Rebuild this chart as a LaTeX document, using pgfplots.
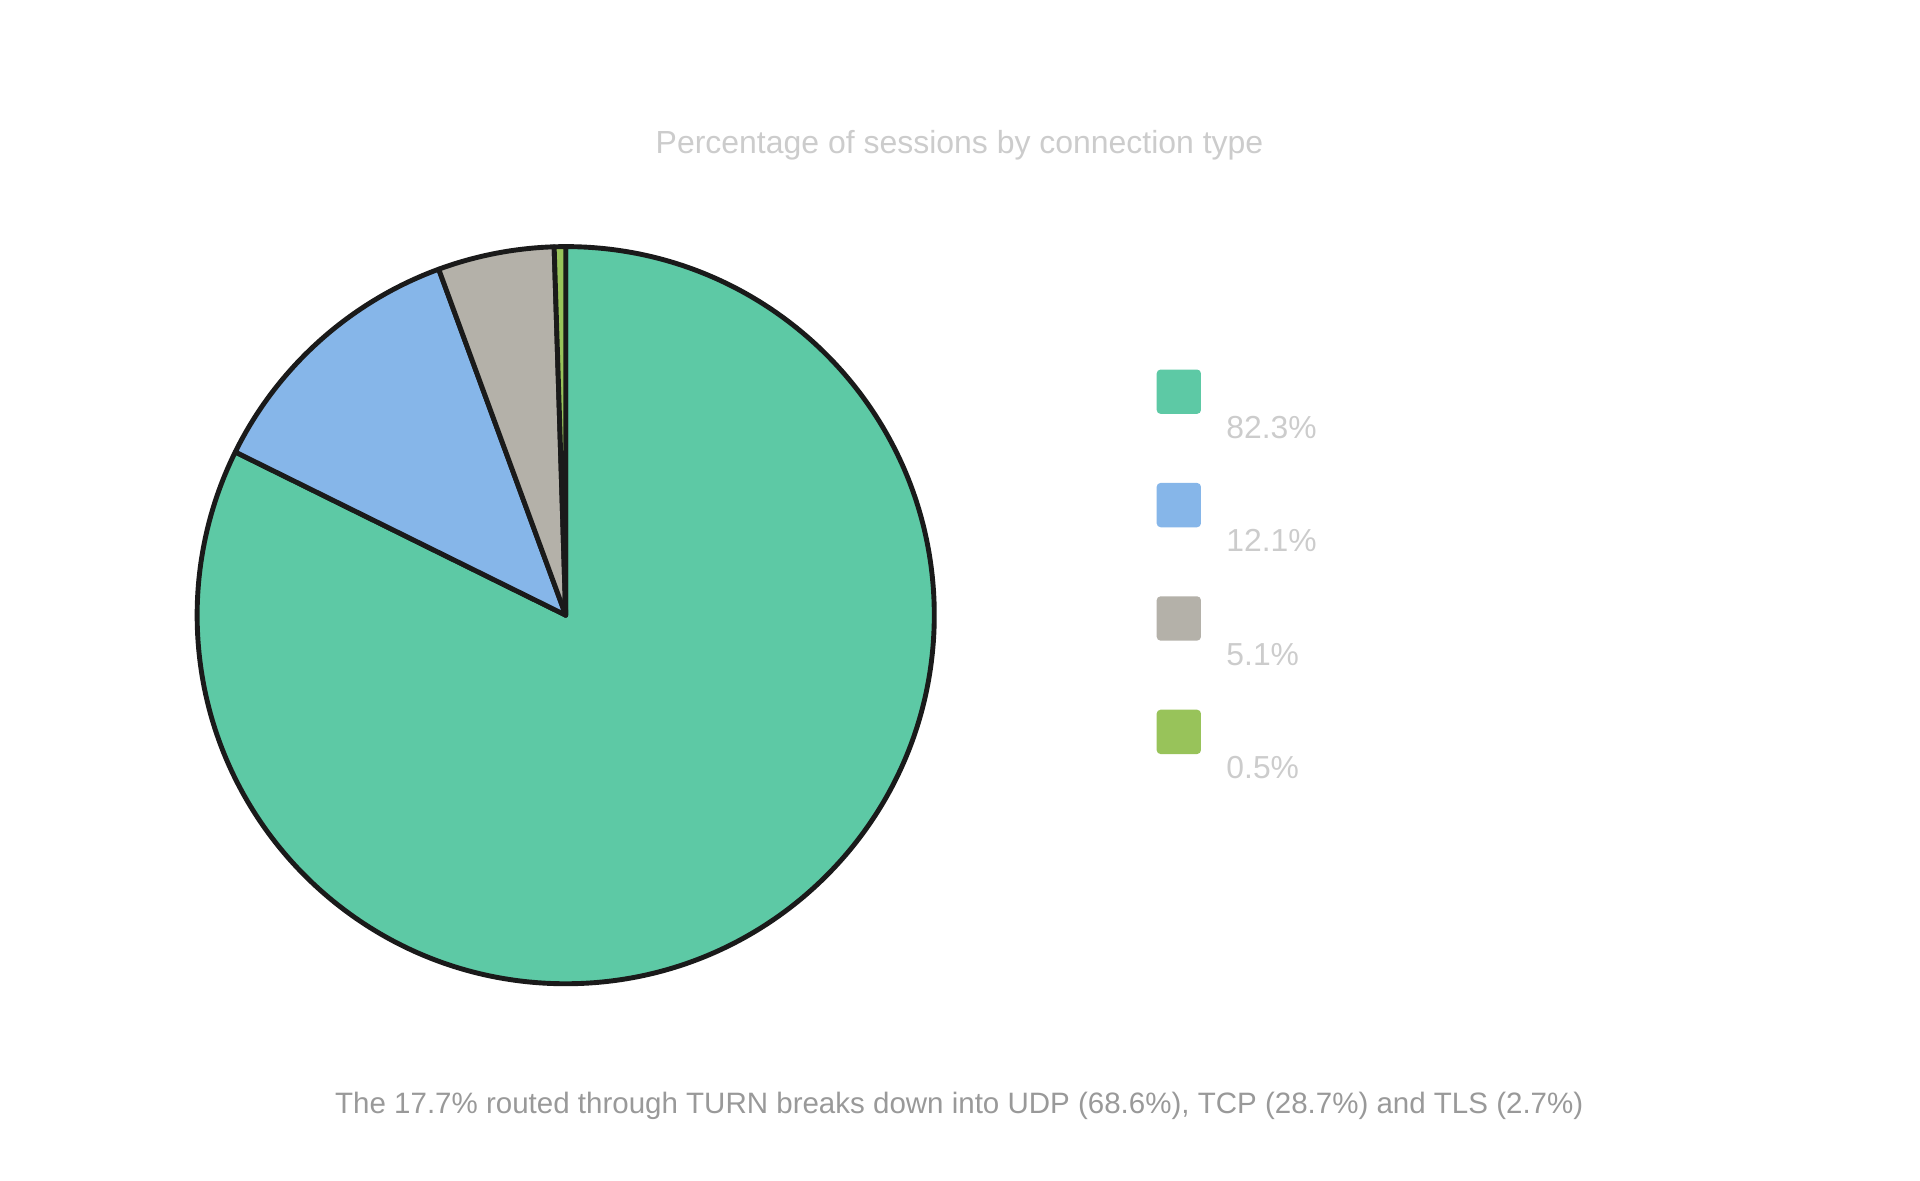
\documentclass[border=0pt]{standalone}
\usepackage{fontspec}
\setmainfont{Liberation Sans}
\usepackage{pgfplots}
\pgfplotsset{compat=1.18}

\definecolor{sgreen}{HTML}{5DC9A5}
\definecolor{sblue}{HTML}{86B6E9}
\definecolor{sgray}{HTML}{B4B1A9}
\definecolor{slime}{HTML}{98C35A}
\definecolor{edge}{HTML}{1A1A1A}
\definecolor{titlegray}{HTML}{CCCCCC}
\definecolor{notegray}{HTML}{999999}

\begin{document}
\begin{tikzpicture}[x=1pt,y=1pt]
\path[use as bounding box] (0,0) rectangle (784,482.2);

% pie, clockwise from 12 o'clock
\begin{axis}[
    at={(231pt,231pt)}, anchor=center,
    width=301pt, height=301pt, scale only axis,
    xmin=-1, xmax=1, ymin=-1, ymax=1,
    hide axis, clip=false,
]
\gdef\startang{90}
\foreach \v/\c in {82.3/sgreen, 12.1/sblue, 5.1/sgray, 0.5/slime} {
    \pgfmathsetmacro\endang{\startang-3.6*\v}
    \edef\temp{\noexpand\filldraw[fill=\c, draw=edge, line width=2pt, line join=round]
        (axis cs:0,0) -- (axis cs:{cos(\startang)},{sin(\startang)})
        arc[start angle=\startang, end angle=\endang, radius=150.5pt] -- cycle;}
    \temp
    \global\let\startang\endang
}
\end{axis}

% title
\node[anchor=base, text=titlegray, font=\fontsize{13.05}{16}\selectfont] at (391.8,419.5)
    {Percentage of sessions by connection type};

% legend
\foreach \c/\t [count=\i from 0] in {sgreen/82.3\%, sblue/12.1\%, sgray/5.1\%, slime/0.5\%} {
    \fill[\c, rounded corners=1.6pt] (472.3,{313.2-46.3*\i}) rectangle ++(18.1,18.1);
    \node[anchor=base west, inner sep=0pt, text=titlegray, font=\fontsize{13.0}{16}\selectfont]
        at (500.6,{303.1-46.3*\i}) {\t};
}

% note
\node[anchor=base, text=notegray, font=\fontsize{12.05}{14}\selectfont] at (391.7,27.5)
    {The 17.7\% routed through TURN breaks down into UDP (68.6\%), TCP (28.7\%) and TLS (2.7\%)};
\end{tikzpicture}
\end{document}
